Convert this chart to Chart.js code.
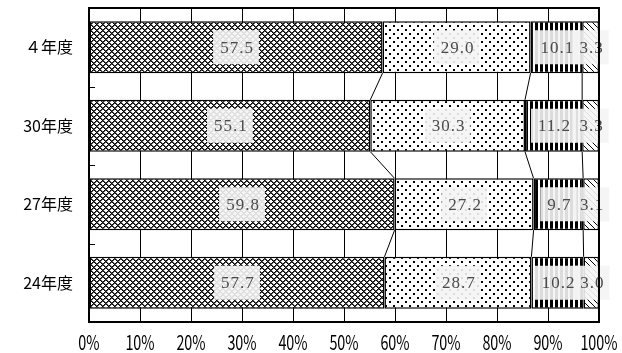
<!DOCTYPE html>
<html>
<head>
<meta charset="utf-8">
<script src="https://cdn.jsdelivr.net/npm/chart.js@4"></script>
<style>
  html, body { margin: 0; padding: 0; background: #fff; }
  #wrap { width: 622px; height: 353px; }
</style>
</head>
<body>
<div id="wrap"><canvas id="myChart" width="622" height="353"></canvas></div>
<script>
// data
const categories = ["４年度", "30年度", "27年度", "24年度"];
const seriesA = [57.5, 55.1, 59.8, 57.7];
const seriesB = [29.0, 30.3, 27.2, 28.7];
const seriesC = [10.1, 11.2, 9.7, 10.2];
const seriesD = [3.3, 3.3, 3.1, 3.0];
const xTicks = [0, 10, 20, 30, 40, 50, 60, 70, 80, 90, 100];

const allSeries = [seriesA, seriesB, seriesC, seriesD];

// bars are drawn as shares of 100 so every row reaches the right edge
const totals = categories.map((c, i) => allSeries.reduce((s, arr) => s + arr[i], 0));
const shares = allSeries.map((arr) => arr.map((v, i) => (v / totals[i]) * 100));

function makePattern(w, h, paint) {
  const c = document.createElement("canvas");
  c.width = w;
  c.height = h;
  const g = c.getContext("2d");
  g.fillStyle = "#fff";
  g.fillRect(0, 0, w, h);
  paint(g);
  return g.createPattern(c, "repeat");
}

const ctx = document.getElementById("myChart").getContext("2d");

const crossHatch = makePattern(6, 6, (g) => {
  for (let x = 0; x < 6; x++) {
    for (let y = 0; y < 6; y++) {
      const a = (x + y) % 6, b = (x - y + 6) % 6;
      if (a === 0 || b === 0) {
        g.fillStyle = "#000";
        g.fillRect(x, y, 1, 1);
      } else if (a === 1 || b === 1) {
        g.fillStyle = "#555";
        g.fillRect(x, y, 1, 1);
      }
    }
  }
});
const dots = makePattern(8, 8, (g) => {
  g.fillStyle = "#000";
  g.fillRect(1, 1, 2, 2);
  g.fillRect(5, 5, 2, 2);
});
const stripes = makePattern(5, 4, (g) => {
  g.fillStyle = "#000";
  g.fillRect(0, 0, 3, 4);
});
const diagonal = makePattern(6, 6, (g) => {
  g.fillStyle = "#000";
  for (let i = 0; i < 6; i++) g.fillRect(i, i, 1, 1);
});
const fills = [crossHatch, dots, stripes, diagonal];

const datasets = shares.map((arr, k) => ({
  label: "s" + k,
  data: arr,
  backgroundColor: fills[k],
  borderColor: "#000",
  borderWidth: 1.5,
  borderSkipped: false,
  barPercentage: 0.66,
  categoryPercentage: 1
}));

const extrasPlugin = {
  id: "extras",
  afterDatasetsDraw(chart) {
    const c = chart.ctx;
    const area = chart.chartArea;
    const metas = datasets.map((d, k) => chart.getDatasetMeta(k));

    // lines joining the boundaries of neighbouring bars
    c.save();
    c.strokeStyle = "#000";
    c.lineWidth = 1;
    for (let i = 0; i < categories.length - 1; i++) {
      for (let k = 0; k < 3; k++) {
        const a = metas[k].data[i];
        const b = metas[k].data[i + 1];
        c.beginPath();
        c.moveTo(a.x, a.y + a.height / 2);
        c.lineTo(b.x, b.y - b.height / 2);
        c.stroke();
      }
    }
    c.restore();

    // value labels in pale boxes: boxes first, then text
    c.save();
    c.font = "17px 'Liberation Serif', 'DejaVu Serif', serif";
    c.letterSpacing = "1px";
    c.textAlign = "center";
    c.textBaseline = "middle";
    const items = [];
    metas.forEach((meta, k) => {
      meta.data.forEach((bar, i) => {
        const txt = allSeries[k][i].toFixed(1);
        const cx = (bar.x + bar.base) / 2;
        items.push({ txt, cx, cy: bar.y, w: c.measureText(txt).width + 12 });
      });
    });
    c.fillStyle = "rgba(244,244,244,0.9)";
    items.forEach((it) => c.fillRect(it.cx - it.w / 2, it.cy - 17, it.w, 34));
    c.fillStyle = "#4a4a4a";
    items.forEach((it) => c.fillText(it.txt, it.cx + 1, it.cy + 1));
    c.restore();

    // frame and small inner ticks on the left
    c.save();
    c.strokeStyle = "#000";
    c.lineWidth = 2;
    c.strokeRect(area.left, area.top, area.right - area.left, area.bottom - area.top);
    c.lineWidth = 1;
    const first = metas[0].data;
    for (let i = 0; i < first.length - 1; i++) {
      const y = Math.round((first[i].y + first[i + 1].y) / 2) + 0.5;
      c.beginPath();
      c.moveTo(area.left, y);
      c.lineTo(area.left + 6, y);
      c.stroke();
    }

    // x tick labels in a narrow face (scaled horizontally)
    const xs = chart.scales.x;
    c.fillStyle = "#000";
    c.font = "20px 'Noto Sans CJK JP', sans-serif";
    c.textAlign = "center";
    c.textBaseline = "middle";
    xTicks.forEach((v) => {
      const px = xs.getPixelForValue(v);
      c.save();
      c.translate(px, 342);
      c.scale(0.72, 1);
      c.fillText(v + "%", 0, 0);
      c.restore();
    });
    c.restore();
  }
};

new Chart(ctx, {
  type: "bar",
  data: { labels: categories, datasets },
  options: {
    indexAxis: "y",
    responsive: false,
    animation: false,
    layout: { padding: { top: 8, right: 23, left: 0, bottom: 0 } },
    plugins: {
      legend: { display: false },
      tooltip: { enabled: false }
    },
    scales: {
      x: {
        stacked: true,
        min: 0,
        max: 100,
        afterBuildTicks: (scale) => {
          scale.ticks = xTicks.map((v) => ({ value: v }));
        },
        afterFit: (scale) => {
          scale.height = 31;
          scale.paddingLeft = 0;
          scale.paddingRight = 0;
        },
        ticks: { display: false },
        grid: { color: "#000", lineWidth: 1, drawTicks: false },
        border: { display: false }
      },
      y: {
        stacked: true,
        afterFit: (scale) => {
          scale.width = 89;
          scale.paddingTop = 0;
          scale.paddingBottom = 0;
        },
        ticks: {
          color: "#000",
          padding: 16,
          font: { family: "'Noto Sans CJK JP', sans-serif", size: 16 }
        },
        grid: { display: false, drawTicks: false },
        border: { display: false }
      }
    }
  },
  plugins: [extrasPlugin]
});
</script>
</body>
</html>
